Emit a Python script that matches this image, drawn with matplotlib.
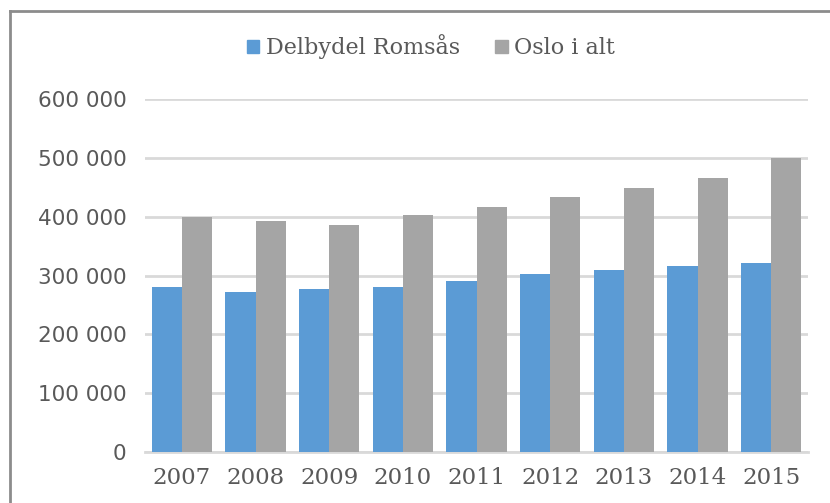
import numpy as np
import matplotlib.pyplot as plt
from matplotlib.lines import Line2D
from matplotlib.patches import Patch
from matplotlib.ticker import FuncFormatter, MultipleLocator

years = ['2007', '2008', '2009', '2010', '2011', '2012', '2013', '2014', '2015']
romsas = [280000, 271500, 276500, 280000, 291000, 302000, 309000, 316000, 322000]
oslo = [400000, 392000, 385000, 402500, 416000, 433000, 448500, 466000, 499000]
series_names = ['Delbydel Romsås', 'Oslo i alt']

blue = '#5B9BD5'
gray = '#A5A5A5'
text_col = '#595959'
grid_col = '#D9D9D9'

W, H = 830, 503
fig = plt.figure(figsize=(W / 100, H / 100), dpi=100)
ax = fig.add_axes([145 / W, (H - 452) / H, (808 - 145) / W, (452 - 99) / H])

x = np.arange(len(years))
bw = 0.41
ax.bar(x - bw / 2, romsas, bw, color=blue, zorder=3)
ax.bar(x + bw / 2, oslo, bw, color=gray, zorder=3)

ax.set_xlim(-0.5, len(years) - 0.5)
ax.set_ylim(0, 600000)
ax.yaxis.set_major_locator(MultipleLocator(100000))
ax.yaxis.set_major_formatter(FuncFormatter(lambda v, p: format(int(v), ',').replace(',', ' ')))
ax.set_xticks(x)
ax.set_xticklabels(years, family='DejaVu Serif', fontsize=16.5, color=text_col)
ax.tick_params(axis='y', length=0, pad=13.5, labelsize=15.5, labelcolor=text_col)
ax.tick_params(axis='x', length=0, pad=11)

ax.grid(axis='y', color=grid_col, linewidth=2, zorder=0)
for s in ['top', 'right', 'left']:
    ax.spines[s].set_visible(False)
ax.spines['bottom'].set_color(grid_col)
ax.spines['bottom'].set_linewidth(2)

handles = [Patch(color=blue), Patch(color=gray)]
fig.legend(handles, series_names, loc='center', bbox_to_anchor=(431 / W, 1 - 47 / H),
           ncol=2, frameon=False, prop={'family': 'DejaVu Serif', 'size': 16},
           labelcolor=text_col, handlelength=0.55, handleheight=0.55,
           handletextpad=0.3, columnspacing=1.6)

# outer chart frame (right and bottom edges fall outside the picture)
fig.add_artist(Line2D([10 / W, 10 / W], [0, 1 - 11 / H], color='#8C8C8C', linewidth=2))
fig.add_artist(Line2D([10 / W, 1], [1 - 11 / H, 1 - 11 / H], color='#8C8C8C', linewidth=2))

fig.savefig('out.png', dpi=100)
